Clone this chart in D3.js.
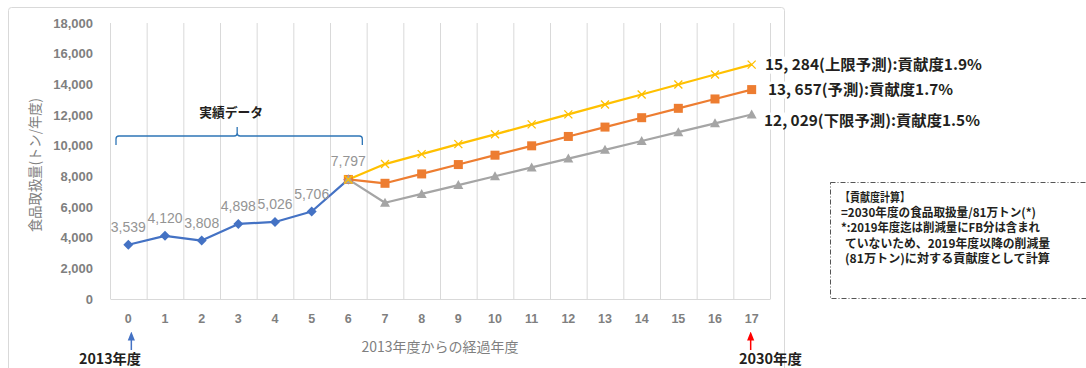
<!DOCTYPE html>
<html>
<head>
<meta charset="utf-8">
<script src="https://cdn.jsdelivr.net/npm/d3@7"></script>
<style>
  body { margin: 0; background: #fff; }
  svg { display: block; }
</style>
</head>
<body>
<div id="chart"></div>
<script>
// data
let years = [0, 1, 2, 3, 4, 5, 6, 7, 8, 9, 10, 11, 12, 13, 14, 15, 16, 17];
let actualYears = [0, 1, 2, 3, 4, 5, 6];
let actual = [3539, 4120, 3808, 4898, 5026, 5706, 7797];
let forecastYears = [6, 7, 8, 9, 10, 11, 12, 13, 14, 15, 16, 17];
let upper = [7797, 8800, 9450, 10100, 10740, 11390, 12040, 12690, 13340, 13990, 14640, 15284];
let middle = [7797, 7546, 8157, 8768, 9379, 9990, 10601, 11212, 11824, 12435, 13046, 13657];
let lower = [7797, 6280, 6855, 7430, 8005, 8580, 9155, 9730, 10305, 10880, 11455, 12029];
let yTicks = [0, 2000, 4000, 6000, 8000, 10000, 12000, 14000, 16000, 18000];
let endLabels = ["15, 284(上限予測):貢献度1.9%", "13, 657(予測):貢献度1.7%", "12, 029(下限予測):貢献度1.5%"];
let noteLines = ["【貢献度計算】", "=2030年度の食品取扱量/81万トン(*)", "*:2019年度迄は削減量にFB分は含まれ", "ていないため、2019年度以降の削減量", "(81万トン)に対する貢献度として計算"];

let W = 1086, H = 368;
let margin = {top: 23, right: 316, bottom: 69, left: 110};
let width = W - margin.left - margin.right;
let height = H - margin.top - margin.bottom;

let svg = d3.select("#chart")
    .append("svg")
        .attr("width", W)
        .attr("height", H);

// outer chart frame
svg.append("rect")
    .attr("x", 8.5).attr("y", 7.5)
    .attr("width", 776).attr("height", 380)
    .attr("rx", 3)
    .attr("fill", "none")
    .attr("stroke", "#d9d9d9");

let g = svg.append("g")
    .attr("transform", "translate(" + margin.left + "," + margin.top + ")");

// X scale
let x = d3.scaleBand()
    .domain(years)
    .range([0, width])
    .padding(0);
let cx = function(d) { return x(d) + x.bandwidth() / 2; };

// Y scale
let y = d3.scaleLinear()
    .domain([0, 18000])
    .range([height, 0]);

// vertical gridlines
let gridX = years.map(function(d) { return x(d); }).concat([width]);
g.selectAll(".vgrid")
    .data(gridX)
    .enter()
    .append("line")
    .attr("x1", function(d) { return d + 0.5; })
    .attr("x2", function(d) { return d + 0.5; })
    .attr("y1", 0)
    .attr("y2", height)
    .attr("stroke", "#d9d9d9");

// x axis
let xAxis = g.append("g")
    .attr("transform", "translate(0," + height + ")")
    .call(d3.axisBottom(x).tickSize(0).tickPadding(15));
xAxis.select(".domain").attr("stroke", "#d9d9d9");
xAxis.selectAll("text")
    .attr("fill", "#7f7f7f")
    .style("font-family", "'Liberation Sans', sans-serif")
    .style("font-size", "12.5px")
    .style("font-weight", "bold");

// y axis
let yAxis = g.append("g")
    .call(d3.axisLeft(y).tickValues(yTicks).tickSize(0).tickPadding(17)
        .tickFormat(d3.format(",")));
yAxis.select(".domain").remove();
yAxis.selectAll("text")
    .attr("fill", "#7f7f7f")
    .style("font-family", "'Liberation Sans', sans-serif")
    .style("font-size", "13px")
    .style("font-weight", "bold");

// Y axis label
g.append("text")
    .attr("text-anchor", "middle")
    .attr("transform", "rotate(-90)")
    .attr("x", -(165 - margin.top))
    .attr("y", 35 - margin.left + 5)
    .attr("fill", "#7f7f7f")
    .attr("textLength", 134)
    .attr("lengthAdjust", "spacingAndGlyphs")
    .style("font-family", "'Noto Sans CJK JP', sans-serif")
    .style("font-size", "14px")
    .text("食品取扱量(トン/年度)");

// X axis label
g.append("text")
    .attr("text-anchor", "middle")
    .attr("x", 440 - margin.left)
    .attr("y", 347 - margin.top + 5)
    .attr("fill", "#7f7f7f")
    .style("font-family", "'Noto Sans CJK JP', sans-serif")
    .style("font-size", "14px")
    .text("2013年度からの経過年度");

// lines
let line = d3.line()
    .x(function(d) { return cx(d[0]); })
    .y(function(d) { return y(d[1]); });

let series = [
    {name: "actual", xs: actualYears, vals: actual, color: "#4472c4", shape: "diamond"},
    {name: "middle", xs: forecastYears, vals: middle, color: "#ed7d31", shape: "square"},
    {name: "lower", xs: forecastYears, vals: lower, color: "#a5a5a5", shape: "triangle"},
    {name: "upper", xs: forecastYears, vals: upper, color: "#ffc000", shape: "cross"}
];

series.forEach(function(s) {
    let pts = s.xs.map(function(d, i) { return [d, s.vals[i]]; });
    g.append("path")
        .datum(pts)
        .attr("fill", "none")
        .attr("stroke", s.color)
        .attr("stroke-width", 2.2)
        .attr("stroke-linejoin", "round")
        .attr("d", line);
});

// markers
series.forEach(function(s) {
    let pts = s.xs.map(function(d, i) { return [d, s.vals[i]]; });
    let sel = g.selectAll(".m-" + s.name)
        .data(pts)
        .enter();
    if (s.shape === "diamond") {
        sel.append("path")
            .attr("d", "M0,-5L5,0L0,5L-5,0Z")
            .attr("transform", function(d) { return "translate(" + cx(d[0]) + "," + y(d[1]) + ")"; })
            .attr("fill", s.color);
    } else if (s.shape === "square") {
        sel.append("rect")
            .attr("x", function(d) { return cx(d[0]) - 4.5; })
            .attr("y", function(d) { return y(d[1]) - 4.5; })
            .attr("width", 9).attr("height", 9)
            .attr("fill", s.color);
    } else if (s.shape === "triangle") {
        sel.append("path")
            .attr("d", "M0,-5L5,4L-5,4Z")
            .attr("transform", function(d) { return "translate(" + cx(d[0]) + "," + y(d[1]) + ")"; })
            .attr("fill", s.color);
    } else {
        sel.append("path")
            .attr("d", "M-4,-4L4,4M-4,4L4,-4")
            .attr("transform", function(d) { return "translate(" + cx(d[0]) + "," + y(d[1]) + ")"; })
            .attr("stroke", s.color)
            .attr("stroke-width", 1.3)
            .attr("fill", "none");
    }
});

// data labels for actual
g.selectAll(".dlabel")
    .data(actual)
    .enter()
    .append("text")
    .attr("x", function(d, i) { return cx(actualYears[i]); })
    .attr("y", function(d) { return y(d) - 13; })
    .attr("text-anchor", "middle")
    .attr("fill", "#949494")
    .style("font-family", "'Liberation Sans', sans-serif")
    .style("font-size", "14px")
    .text(function(d) { return d3.format(",")(d); });

// end labels
let endVals = [upper[upper.length - 1], middle[middle.length - 1], lower[lower.length - 1]];
let endOffsets = [0, 0, 6];
let endStarts = [765, 768, 764];
let endWidths = [217, 185, 216];
endLabels.forEach(function(t, i) {
    let ly = y(endVals[i]) + margin.top + endOffsets[i] + 5;
    svg.append("rect")
        .attr("x", endStarts[i] - 2).attr("y", ly - 13)
        .attr("width", endWidths[i] + 4).attr("height", 17)
        .attr("fill", "#fff");
    svg.append("text")
        .attr("x", endStarts[i])
        .attr("y", ly)
        .attr("fill", "#231f20")
        .attr("textLength", endWidths[i])
        .attr("lengthAdjust", "spacingAndGlyphs")
        .style("font-family", "'Noto Sans CJK JP', sans-serif")
        .style("font-size", "15px")
        .style("font-weight", "bold")
        .text(t);
});

// brace over the actual data
let bl = x(0) + 6, br = cx(6) + 14, bm = (bl + br) / 2 - 2;
let by = 136 - margin.top;
let brace = d3.path();
brace.moveTo(bl, by + 9);
brace.lineTo(bl, by + 3);
brace.quadraticCurveTo(bl, by, bl + 3, by);
brace.lineTo(bm - 3, by);
brace.quadraticCurveTo(bm, by, bm, by - 3);
brace.lineTo(bm, by - 9);
brace.moveTo(bm, by - 3);
brace.quadraticCurveTo(bm, by, bm + 3, by);
brace.lineTo(br - 3, by);
brace.quadraticCurveTo(br, by, br, by + 3);
brace.lineTo(br, by + 9);
g.append("path")
    .attr("d", brace.toString())
    .attr("fill", "none")
    .attr("stroke", "#2e75b6")
    .attr("stroke-width", 1.3);

g.append("text")
    .attr("x", bm - 6)
    .attr("y", 117 - margin.top)
    .attr("text-anchor", "middle")
    .attr("fill", "#231f20")
    .attr("textLength", 64)
    .attr("lengthAdjust", "spacingAndGlyphs")
    .style("font-family", "'Noto Sans CJK JP', sans-serif")
    .style("font-size", "13px")
    .style("font-weight", "bold")
    .text("実績データ");

// arrows for 2013 and 2030
let arrows = [
    {yr: 0, color: "#4472c4", label: "2013年度", dx: 3, lx: 79, lw: 62},
    {yr: 17, color: "#ff0000", label: "2030年度", dx: -1, lx: 739, lw: 63}
];
let defs = svg.append("defs");
arrows.forEach(function(a, i) {
    defs.append("marker")
        .attr("id", "ah" + i)
        .attr("viewBox", "0 0 10 10")
        .attr("refX", 5).attr("refY", 5)
        .attr("markerWidth", 6).attr("markerHeight", 6)
        .attr("orient", "auto")
        .append("path")
        .attr("d", "M0,1L10,5L0,9Z")
        .attr("fill", a.color);
    let ax = margin.left + cx(a.yr) + a.dx;
    svg.append("line")
        .attr("x1", ax).attr("x2", ax)
        .attr("y1", 350).attr("y2", 336)
        .attr("stroke", a.color)
        .attr("stroke-width", 1.5)
        .attr("marker-end", "url(#ah" + i + ")");
    svg.append("text")
        .attr("x", a.lx)
        .attr("y", 364)
        .attr("fill", "#231f20")
        .attr("textLength", a.lw)
        .attr("lengthAdjust", "spacingAndGlyphs")
        .style("font-family", "'Noto Sans CJK JP', sans-serif")
        .style("font-size", "14px")
        .style("font-weight", "bold")
        .text(a.label);
});

// note box
svg.append("rect")
    .attr("x", 830.5).attr("y", 182.5)
    .attr("width", 270).attr("height", 116)
    .attr("fill", "#fff")
    .attr("stroke", "#555")
    .attr("stroke-width", 1)
    .attr("stroke-dasharray", "5,2,1,2");

let noteY = [197, 212, 227, 243, 258];
let noteX = [840, 841, 841, 845, 845];
let noteW = [70, 195, 199, 205, 205];
svg.selectAll(".note")
    .data(noteLines)
    .enter()
    .append("text")
    .attr("x", function(d, i) { return noteX[i]; })
    .attr("y", function(d, i) { return noteY[i] + 4.5; })
    .attr("fill", "#231f20")
    .attr("textLength", function(d, i) { return noteW[i]; })
    .attr("lengthAdjust", "spacingAndGlyphs")
    .style("font-family", "'Noto Sans CJK JP', sans-serif")
    .style("font-size", "12px")
    .style("font-weight", "bold")
    .text(function(d) { return d; });
</script>
</body>
</html>
